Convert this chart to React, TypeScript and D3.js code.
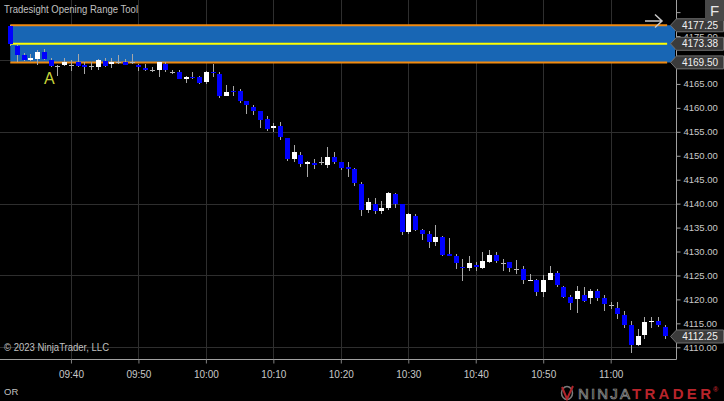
import { useEffect, useRef } from "react";
import * as d3 from "d3";

// 1-minute bars, 09:31 .. 11:08
const opens = [
  4177, 4173, 4171, 4170, 4170.25, 4171.75, 4170, 4168.75, 4169, 4169,
  4169.5, 4169, 4168.75, 4168.5, 4169.75, 4169.25, 4169.5, 4169.5, 4169.5, 4169,
  4168.25, 4168, 4168, 4169.25, 4167.5, 4167.5, 4166, 4166.5, 4166.5, 4165.5,
  4167.5, 4167, 4162.5, 4163.5, 4163.5, 4161.5, 4160.25, 4159.25, 4157.75, 4155.75,
  4156.25, 4153.75, 4149.25, 4150.25, 4148.25, 4148.5, 4148.75, 4148, 4149.75, 4148.75,
  4147.75, 4147.25, 4144, 4138.75, 4140, 4138.5, 4139, 4142, 4140, 4134,
  4137.5, 4134.5, 4133.75, 4132, 4133, 4129.5, 4129, 4126.75, 4126.5, 4127.25,
  4126.5, 4127.75, 4129.25, 4127.5, 4127.75, 4126.25, 4126.25, 4123.75, 4124, 4121.5,
  4124, 4125.5, 4122.5, 4120.5, 4120, 4121, 4120.25, 4121.75, 4120.25, 4118.75,
  4118.25, 4116.75, 4114.75, 4110.5, 4112.5, 4115.25, 4115.5, 4114.25,
];
const highs = [
  4177.25, 4173.25, 4171.5, 4171.25, 4172, 4172.25, 4170.5, 4169, 4170.5, 4170,
  4171.25, 4169.5, 4169.5, 4170.25, 4170.5, 4170.5, 4171, 4170.25, 4171.25, 4169.25,
  4169.25, 4168.5, 4169.5, 4169.5, 4168, 4168, 4166.75, 4167.5, 4166.75, 4167.75,
  4169.25, 4167.5, 4164.75, 4164.5, 4164, 4161.5, 4160.5, 4159.25, 4158.25, 4156.75,
  4157, 4153.75, 4152.25, 4150.75, 4149, 4149.25, 4149.75, 4151.75, 4150.75, 4148.75,
  4148.75, 4147.5, 4144.5, 4141.25, 4141.25, 4140.5, 4142.5, 4142.25, 4140, 4138,
  4137.75, 4134.75, 4134.25, 4135.5, 4133.25, 4132.75, 4129.5, 4128.5, 4129, 4127.75,
  4130, 4130.25, 4130, 4128.5, 4127.75, 4128.25, 4127, 4125.25, 4124.25, 4125,
  4127, 4126, 4122.75, 4121, 4122.75, 4122.5, 4122.25, 4122.25, 4121, 4119.5,
  4119.5, 4117.5, 4115.5, 4113.75, 4116.25, 4116.25, 4116.25, 4114.75,
];
const lows = [
  4173, 4169.5, 4169.75, 4169.75, 4169, 4170, 4168.5, 4166.75, 4168.75, 4167.75,
  4168.5, 4167, 4168, 4168, 4168.5, 4168.25, 4169.25, 4169, 4169.25, 4167.75,
  4167.75, 4167.5, 4166.5, 4167.5, 4167, 4166, 4165.25, 4166, 4165, 4165,
  4166.5, 4162, 4162.5, 4162.5, 4161, 4158.75, 4158.5, 4155.75, 4155.25, 4155,
  4153.25, 4149, 4148.75, 4147.75, 4145.5, 4147.25, 4148, 4147.5, 4148.25, 4147,
  4145.5, 4143.75, 4137.5, 4138, 4137.75, 4137.75, 4138.75, 4139, 4133.5, 4133.75,
  4134.25, 4132.5, 4130.75, 4131.25, 4129, 4129, 4126.25, 4123.75, 4126, 4126,
  4126.25, 4127.5, 4127.5, 4126, 4125.75, 4125.25, 4123.25, 4123.75, 4120.75, 4120.5,
  4124, 4122.5, 4120.25, 4117.75, 4117.25, 4119.5, 4119, 4119.75, 4117.5, 4118,
  4116, 4114, 4108.75, 4110.25, 4111.75, 4114, 4114.25, 4111.75,
];
const closes = [
  4173.25, 4171, 4170, 4170.5, 4171.75, 4170.25, 4168.75, 4168.75, 4169.5, 4169,
  4168.75, 4168.5, 4168.75, 4170, 4168.75, 4169.5, 4169.5, 4169, 4169.5, 4168.5,
  4168, 4168, 4169.5, 4168, 4167.5, 4166, 4166.5, 4166.25, 4165.25, 4167.5,
  4167.25, 4162.5, 4163.25, 4163.25, 4161.5, 4160.5, 4159.25, 4157.5, 4155.5, 4156.25,
  4154, 4149.25, 4150.75, 4148.25, 4148.75, 4148, 4148.75, 4149.75, 4148.75, 4147.5,
  4147.25, 4144.25, 4138.75, 4140.25, 4138.5, 4139, 4142.25, 4140, 4134, 4137.75,
  4134.5, 4133.75, 4132, 4133, 4129.25, 4129, 4127.5, 4126.5, 4127.5, 4126.75,
  4128, 4129.25, 4128, 4127.5, 4126.5, 4126.25, 4124, 4124, 4121.5, 4124,
  4125.5, 4123, 4120.5, 4119.25, 4121.75, 4119.75, 4121.75, 4120.25, 4119, 4118.75,
  4117, 4114.75, 4110.5, 4112.25, 4115.25, 4115.5, 4114.75, 4112.25,
];

// opening range: high, mid, low
const orLevels = [4177.25, 4173.38, 4169.5];
const lastPrice = 4112.25;

const priceTicks = [4110, 4115, 4120, 4125, 4130, 4135, 4140, 4145, 4150, 4155, 4160, 4165, 4170, 4175, 4180];
// labels that the platform shows (4170 sits under the OR-low marker, 4180 is clipped)
const priceLabels = [4110, 4115, 4120, 4125, 4130, 4135, 4140, 4145, 4150, 4155, 4160, 4165, 4175];
const priceGrid = [4110, 4125, 4140, 4155, 4170];
const timeTicks = ["09:40", "09:50", "10:00", "10:10", "10:20", "10:30", "10:40", "10:50", "11:00"];

const W = 724;
const H = 401;
const FONT = "'Liberation Sans', Arial, sans-serif";

function Chart() {
  const ref = useRef<SVGSVGElement>(null);

  useEffect(() => {
    if (!ref.current) return;
    const svg = d3.select(ref.current);
    svg.selectAll("*").remove();

    const plotRight = 676;
    const plotBottom = 359;

    const parseTime = d3.timeParse("%H:%M");
    const t0 = parseTime("09:30") as Date;
    const firstBar = parseTime("09:31") as Date;
    const times = d3.timeMinute.range(firstBar, d3.timeMinute.offset(firstBar, opens.length));
    const bars = times.map((t, i) => ({ t, o: opens[i], h: highs[i], l: lows[i], c: closes[i] }));

    const x = d3
      .scaleTime()
      .domain([t0, d3.timeSecond.offset(t0, 5981)])
      .range([3.5, plotRight]);
    const y = d3.scaleLinear().domain([4107.55, 4182.53]).range([plotBottom, 0]);

    svg.append("rect").attr("width", W).attr("height", H).attr("fill", "#000");

    // grid
    const grid = svg.append("g").attr("stroke", "#2e2e2e").attr("stroke-width", 1);
    grid
      .selectAll("line.h")
      .data(priceGrid)
      .enter()
      .append("line")
      .attr("x1", 0)
      .attr("x2", plotRight)
      .attr("y1", (d) => Math.round(y(d)) + 0.5)
      .attr("y2", (d) => Math.round(y(d)) + 0.5);
    grid
      .selectAll("line.v")
      .data(timeTicks)
      .enter()
      .append("line")
      .attr("y1", 0)
      .attr("y2", plotBottom)
      .attr("x1", (d) => Math.round(x(parseTime(d) as Date)) + 0.5)
      .attr("x2", (d) => Math.round(x(parseTime(d) as Date)) + 0.5);

    // opening range box
    const [orHigh, orMid, orLow] = orLevels;
    const boxX = x(firstBar);
    const lineEnd = x(times[times.length - 1]) + 2.5;
    svg
      .append("rect")
      .attr("x", boxX)
      .attr("y", y(orHigh))
      .attr("width", plotRight - 1 - boxX)
      .attr("height", y(orLow) - y(orHigh))
      .attr("rx", 2)
      .attr("fill", "#1866b4");
    svg
      .selectAll("line.or")
      .data(orLevels)
      .enter()
      .append("line")
      .attr("x1", boxX)
      .attr("x2", lineEnd)
      .attr("y1", (d) => y(d))
      .attr("y2", (d) => y(d))
      .attr("stroke", (d) => (d === orMid ? "#ffff00" : "#f08a10"))
      .attr("stroke-width", 2);

    // candles
    const cg = svg.append("g");
    bars.forEach((b) => {
      const cx = Math.round(x(b.t));
      cg.append("line")
        .attr("x1", cx + 0.5)
        .attr("x2", cx + 0.5)
        .attr("y1", Math.round(y(b.h)))
        .attr("y2", Math.round(y(b.l)))
        .attr("stroke", "#a8a8a8");
      const top = Math.round(y(Math.max(b.o, b.c)));
      const bot = Math.round(y(Math.min(b.o, b.c)));
      cg.append("rect")
        .attr("x", cx - 2)
        .attr("y", top)
        .attr("width", 5)
        .attr("height", Math.max(1, bot - top))
        .attr("fill", b.c > b.o ? "#ffffff" : b.c < b.o ? "#0000ff" : "#b8b8b8");
    });

    // axis lines
    svg.append("line").attr("x1", plotRight + 0.5).attr("x2", plotRight + 0.5).attr("y1", 0).attr("y2", plotBottom + 0.5).attr("stroke", "#a0a0a0");
    svg.append("line").attr("x1", 0).attr("x2", plotRight + 0.5).attr("y1", plotBottom + 0.5).attr("y2", plotBottom + 0.5).attr("stroke", "#a0a0a0");

    // price axis
    const yAxis = svg
      .append("g")
      .attr("transform", `translate(${plotRight + 0.5},0)`)
      .call(
        d3
          .axisRight(y)
          .tickValues(priceTicks)
          .tickSize(4)
          .tickPadding(3)
          .tickFormat((d) => (priceLabels.includes(d as number) ? (d as number).toFixed(2) : ""))
      );
    yAxis.select(".domain").remove();
    yAxis.selectAll("line").attr("stroke", "#a0a0a0");
    yAxis.selectAll("text").attr("fill", "#c8c8c8").style("font", `9.5px ${FONT}`);

    // time axis
    const xAxis = svg
      .append("g")
      .attr("transform", `translate(0,${plotBottom + 0.5})`)
      .call(
        d3
          .axisBottom(x)
          .tickValues(timeTicks.map((s) => parseTime(s) as Date))
          .tickSize(4)
          .tickPadding(7)
          .tickFormat((d) => d3.timeFormat("%H:%M")(d as Date))
      );
    xAxis.select(".domain").remove();
    xAxis.selectAll("line").attr("stroke", "#808080");
    xAxis.selectAll("text").attr("fill", "#c8c8c8").style("font", `10px ${FONT}`);

    // price markers
    const marker = (price: number, label: string) => {
      const cy = y(price);
      const g = svg.append("g");
      g.append("path")
        .attr("d", `M670.5,${cy} L676.5,${cy - 6.5} L723.5,${cy - 6.5} L723.5,${cy + 6.5} L676.5,${cy + 6.5} Z`)
        .attr("fill", "#3b3b3b")
        .attr("stroke", "#707070");
      g.append("text")
        .attr("x", 700)
        .attr("y", cy + 3.5)
        .attr("text-anchor", "middle")
        .attr("fill", "#f0f0f0")
        .style("font", `10px ${FONT}`)
        .text(label);
    };
    marker(orHigh, orHigh.toFixed(2));
    marker(orMid, orMid.toFixed(2));
    marker(orLow, orLow.toFixed(2));
    marker(lastPrice, lastPrice.toFixed(2));

    // texts
    svg.append("text").attr("x", 4).attr("y", 13).attr("textLength", 134).attr("lengthAdjust", "spacingAndGlyphs")
      .attr("fill", "#c0c0c0").style("font", `10.5px ${FONT}`).text("Tradesight Opening Range Tool");
    svg.append("text").attr("x", 4).attr("y", 351).attr("textLength", 105).attr("lengthAdjust", "spacingAndGlyphs")
      .attr("fill", "#c0c0c0").style("font", `10px ${FONT}`).text("© 2023 NinjaTrader, LLC");
    svg.append("text").attr("x", 4).attr("y", 395).attr("fill", "#c0c0c0").style("font", `9.5px ${FONT}`).text("OR");
    svg.append("text").attr("x", 44).attr("y", 84).attr("fill", "#c8d43a").style("font", `16px ${FONT}`).text("A");

    // F button and arrow
    svg.append("rect").attr("x", 705).attr("y", 0).attr("width", 19).attr("height", 21).attr("fill", "#484848");
    svg.append("text").attr("x", 714.5).attr("y", 16).attr("text-anchor", "middle").attr("fill", "#e8e8e8").style("font", `15px ${FONT}`).text("F");
    svg.append("path")
      .attr("d", "M645,21 L662,21 M655,14.5 L662,21 L655,27.5")
      .attr("fill", "none")
      .attr("stroke", "#c8c8c8")
      .attr("stroke-width", 1.5);

    // logo
    const logo = svg.append("g");
    logo.append("ellipse").attr("cx", 567).attr("cy", 393).attr("rx", 5.5).attr("ry", 6.5).attr("fill", "none").attr("stroke", "#7a7a7a").attr("stroke-width", 1.5);
    logo.append("path").attr("d", "M562,387 L567,399 L573,386").attr("fill", "none").attr("stroke", "#b0242a").attr("stroke-width", 2);
    logo.append("text").attr("x", 578).attr("y", 399).attr("textLength", 52).attr("lengthAdjust", "spacing")
      .attr("fill", "none").attr("stroke", "#9a9a9a").attr("stroke-width", 0.7).style("font", `15px ${FONT}`).text("NINJA");
    logo.append("text").attr("x", 632).attr("y", 399).attr("textLength", 79).attr("lengthAdjust", "spacing")
      .attr("fill", "#b8242b").style("font", `bold 15px ${FONT}`).text("TRADER");
    logo.append("text").attr("x", 713).attr("y", 392).attr("fill", "#b8242b").style("font", `bold 7px ${FONT}`).text("®");
  }, []);

  return <svg ref={ref} width={W} height={H} style={{ position: "absolute", left: 0, top: 0, display: "block" }} />;
}

export default function App() {
  return <Chart />;
}
